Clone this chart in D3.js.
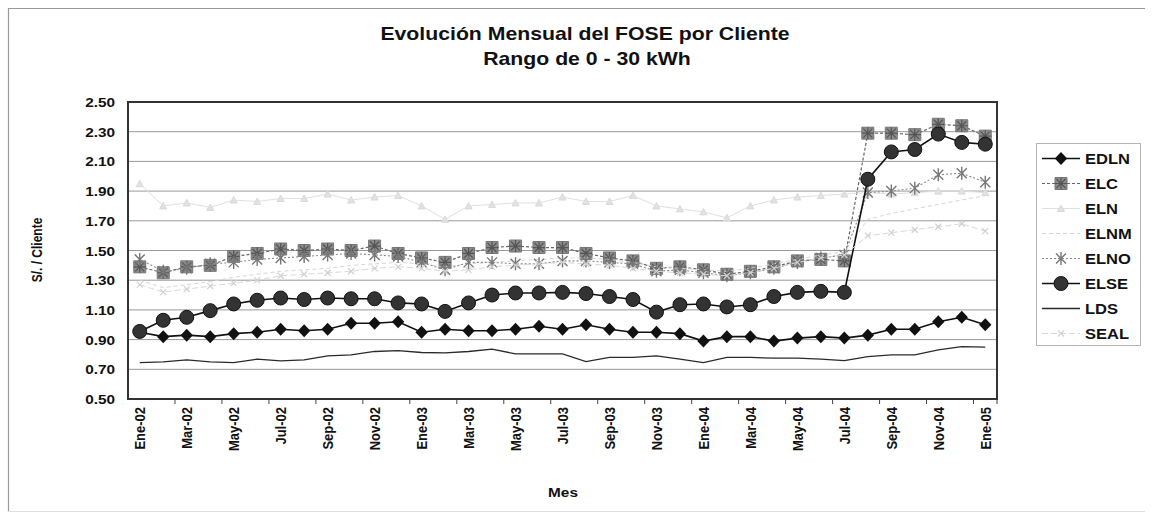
<!DOCTYPE html>
<html>
<head>
<meta charset="utf-8">
<script src="https://cdn.jsdelivr.net/npm/d3@7"></script>
<style>
  body { margin: 0; background: #fff; }
  svg { display: block; }
  text { font-family: "Liberation Sans", Arial, sans-serif; font-weight: bold; fill: #111; }
</style>
</head>
<body>
<svg id="chart" width="1152" height="518"></svg>
<script>
// Months Jan-2002 .. Jan-2005
const months = [
  "Ene-02","Feb-02","Mar-02","Abr-02","May-02","Jun-02","Jul-02","Ago-02","Sep-02","Oct-02","Nov-02","Dic-02",
  "Ene-03","Feb-03","Mar-03","Abr-03","May-03","Jun-03","Jul-03","Ago-03","Sep-03","Oct-03","Nov-03","Dic-03",
  "Ene-04","Feb-04","Mar-04","Abr-04","May-04","Jun-04","Jul-04","Ago-04","Sep-04","Oct-04","Nov-04","Dic-04",
  "Ene-05"
];
const xTickLabels = months.filter((m, i) => i % 2 === 0);
const yTicks = [0.5, 0.7, 0.9, 1.1, 1.3, 1.5, 1.7, 1.9, 2.1, 2.3, 2.5];

// FOSE per client (S/.), one array per distributor
const EDLN = [0.95,0.92,0.93,0.92,0.94,0.95,0.97,0.96,0.97,1.01,1.01,1.02,0.95,0.97,0.96,0.96,0.97,0.99,0.97,1.00,0.97,0.95,0.95,0.94,0.89,0.92,0.92,0.89,0.91,0.92,0.91,0.93,0.97,0.97,1.02,1.05,1.00];
const ELC  = [1.39,1.35,1.39,1.40,1.46,1.48,1.51,1.50,1.51,1.50,1.53,1.48,1.45,1.42,1.48,1.52,1.53,1.52,1.52,1.48,1.45,1.43,1.38,1.39,1.37,1.34,1.36,1.39,1.43,1.44,1.43,2.29,2.29,2.28,2.35,2.34,2.27];
const ELN  = [1.95,1.80,1.82,1.79,1.84,1.83,1.85,1.85,1.88,1.84,1.86,1.87,1.80,1.71,1.80,1.81,1.82,1.82,1.86,1.83,1.83,1.87,1.80,1.78,1.76,1.72,1.80,1.84,1.86,1.87,1.88,1.89,1.88,1.89,1.90,1.90,1.89];
const ELNM = [1.30,1.25,1.27,1.29,1.32,1.34,1.36,1.37,1.38,1.40,1.41,1.42,1.41,1.39,1.41,1.42,1.43,1.44,1.45,1.45,1.44,1.42,1.39,1.38,1.37,1.36,1.38,1.41,1.44,1.47,1.49,1.71,1.75,1.78,1.81,1.84,1.87];
const ELNO = [1.44,1.36,1.38,1.41,1.42,1.44,1.45,1.46,1.47,1.48,1.47,1.46,1.42,1.37,1.42,1.42,1.41,1.41,1.43,1.43,1.42,1.41,1.36,1.37,1.35,1.33,1.35,1.38,1.42,1.45,1.47,1.89,1.90,1.92,2.01,2.02,1.96];
const ELSE = [0.955,1.03,1.05,1.095,1.14,1.165,1.18,1.17,1.18,1.175,1.175,1.147,1.14,1.09,1.147,1.20,1.214,1.214,1.218,1.21,1.19,1.17,1.085,1.135,1.14,1.12,1.135,1.19,1.218,1.225,1.218,1.98,2.164,2.18,2.284,2.228,2.216];
const LDS  = [0.745,0.75,0.763,0.75,0.745,0.768,0.757,0.763,0.79,0.797,0.82,0.826,0.813,0.81,0.82,0.836,0.804,0.804,0.804,0.752,0.78,0.78,0.79,0.768,0.745,0.78,0.78,0.775,0.775,0.768,0.759,0.786,0.797,0.797,0.831,0.853,0.85];
const SEAL = [1.27,1.22,1.24,1.26,1.28,1.30,1.33,1.34,1.35,1.36,1.38,1.39,1.38,1.36,1.37,1.39,1.40,1.41,1.42,1.41,1.40,1.38,1.36,1.35,1.34,1.33,1.35,1.38,1.42,1.45,1.47,1.60,1.62,1.64,1.66,1.68,1.63];

const seriesNames = ["EDLN","ELC","ELN","ELNM","ELNO","ELSE","LDS","SEAL"];
const seriesValues = { EDLN, ELC, ELN, ELNM, ELNO, ELSE, LDS, SEAL };

// Marker shapes
const mk = {
  diamond: "M0,-6.5L6.2,0L0,6.5L-6.2,0Z",
  square: "M-6,-6H6V6H-6Z",
  star: "M-4.5,-4.5L4.5,4.5M-4.5,4.5L4.5,-4.5M0,-6L0,6M-6,0L6,0",
  asterisk: "M-5,-5L5,5M-5,5L5,-5M0,-6.5L0,6.5",
  triangle: "M0,-3.5L3.5,3L-3.5,3Z",
  cross: "M-3,-3L3,3M-3,3L3,-3"
};
const style = {
  EDLN: { stroke: "#111", width: 1.6, dash: null, marker: "diamond" },
  ELC:  { stroke: "#666", width: 1.2, dash: "3,2", marker: "square" },
  ELN:  { stroke: "#e0e0e0", width: 1, dash: null, marker: "triangle" },
  ELNM: { stroke: "#d6d6d6", width: 1, dash: "4,3", marker: null },
  ELNO: { stroke: "#8a8a8a", width: 1.1, dash: "2,2", marker: "asterisk" },
  ELSE: { stroke: "#111", width: 1.6, dash: null, marker: "circle" },
  LDS:  { stroke: "#2a2a2a", width: 1.3, dash: null, marker: null },
  SEAL: { stroke: "#d8d8d8", width: 1, dash: "6,3", marker: "cross" }
};

const svg = d3.select("#chart");
const SX = 1.18; // horizontal glyph stretch

const plot = { left: 128, right: 997, top: 102, bottom: 399 };
const x = d3.scaleBand().domain(months).range([plot.left, plot.right]).padding(0);
const cx = m => x(m) + x.bandwidth() / 2;
const y = d3.scaleLinear().domain([0.5, 2.5]).range([plot.bottom, plot.top]);

// outer frame
svg.append("path")
  .attr("d", "M8.5,511.5V8.5H1145")
  .attr("fill", "none").attr("stroke", "#9a9a9a").attr("stroke-width", 1.2);
svg.append("line").attr("x1", 8).attr("x2", 1145).attr("y1", 511.5).attr("y2", 511.5)
  .attr("stroke", "#dedede");

// gridlines
svg.append("g").selectAll("line")
  .data(yTicks.filter(v => v > 0.5 && v < 2.5))
  .join("line")
  .attr("x1", plot.left).attr("x2", plot.right)
  .attr("y1", d => y(d)).attr("y2", d => y(d))
  .attr("stroke", "#999").attr("stroke-width", 1);

// y axis labels
const yAxis = svg.append("g")
  .attr("transform", `translate(${plot.left},0)`)
  .call(d3.axisLeft(y).tickValues(yTicks).tickFormat(d3.format(".2f")).tickSize(0).tickPadding(0));
yAxis.select(".domain").remove();
yAxis.selectAll("text")
  .attr("x", null).attr("dy", "0.35em")
  .attr("text-anchor", "end")
  .style("font-size", "13px")
  .attr("transform", `translate(-13,0) scale(${SX},1)`);

// x axis labels
const xAxis = svg.append("g")
  .attr("transform", `translate(0,${plot.bottom})`)
  .call(d3.axisBottom(x).tickValues(xTickLabels).tickSize(0).tickPadding(0));
xAxis.select(".domain").remove();
xAxis.selectAll("text")
  .attr("y", null).attr("dy", "0.35em")
  .attr("text-anchor", "end")
  .style("font-size", "13px")
  .attr("transform", `translate(0,8) scale(${SX},1) rotate(-90)`);

// x tick marks every two months
svg.append("g").selectAll("line")
  .data(months.filter((m, i) => i % 2 === 0 && i > 0).concat([null]))
  .join("line")
  .attr("x1", d => d ? x(d) : plot.right).attr("x2", d => d ? x(d) : plot.right)
  .attr("y1", plot.bottom).attr("y2", plot.bottom + 5)
  .attr("stroke", "#444").attr("stroke-width", 1);

// series
const line = d3.line().x((d, i) => cx(months[i])).y(d => y(d));
const drawMarker = (g, name, px, py) => {
  const s = style[name];
  if (s.marker === "diamond") {
    g.append("path").attr("d", mk.diamond).attr("transform", `translate(${px},${py})`).attr("fill", "#111");
  } else if (s.marker === "circle") {
    g.append("circle").attr("cx", px).attr("cy", py).attr("r", 7).attr("fill", "#333").attr("stroke", "#111").attr("stroke-width", 1);
  } else if (s.marker === "square") {
    g.append("path").attr("d", mk.square).attr("transform", `translate(${px},${py})`).attr("fill", "#8c8c8c").attr("stroke", "#777");
    g.append("path").attr("d", mk.star).attr("transform", `translate(${px},${py})`).attr("fill", "none").attr("stroke", "#555").attr("stroke-width", 1.2);
  } else if (s.marker === "asterisk") {
    g.append("path").attr("d", mk.asterisk).attr("transform", `translate(${px},${py})`).attr("fill", "none").attr("stroke", "#777").attr("stroke-width", 1.4);
  } else if (s.marker === "triangle") {
    g.append("path").attr("d", mk.triangle).attr("transform", `translate(${px},${py})`).attr("fill", "#e2e2e2").attr("stroke", "#dadada");
  } else if (s.marker === "cross") {
    g.append("path").attr("d", mk.cross).attr("transform", `translate(${px},${py})`).attr("fill", "none").attr("stroke", "#d0d0d0").attr("stroke-width", 1.2);
  }
};

const seriesG = svg.append("g");
seriesNames.forEach(name => {
  const s = style[name];
  const vals = seriesValues[name];
  const g = seriesG.append("g");
  g.append("path").attr("d", line(vals))
    .attr("fill", "none").attr("stroke", s.stroke).attr("stroke-width", s.width)
    .attr("stroke-dasharray", s.dash);
  vals.forEach((v, i) => drawMarker(g, name, cx(months[i]), y(v)));
});

// plot frame
svg.append("rect")
  .attr("x", plot.left).attr("y", plot.top)
  .attr("width", plot.right - plot.left).attr("height", plot.bottom - plot.top)
  .attr("fill", "none").attr("stroke", "#333").attr("stroke-width", 2);

// titles
const title = svg.append("g");
title.append("text").text("Evolución Mensual del FOSE por Cliente")
  .attr("text-anchor", "middle").style("font-size", "18px")
  .attr("transform", `translate(585,39.5) scale(${SX},1)`);
title.append("text").text("Rango de 0 - 30 kWh")
  .attr("text-anchor", "middle").style("font-size", "18px")
  .attr("transform", `translate(587,64.5) scale(${SX},1)`);

svg.append("text").text("Mes")
  .attr("text-anchor", "middle").style("font-size", "13px")
  .attr("transform", `translate(563,497) scale(${SX},1)`);

svg.append("text").text("S/. / Cliente")
  .attr("text-anchor", "middle").style("font-size", "12px")
  .attr("transform", `translate(42,250) scale(${SX},1) rotate(-90)`);

// legend
const legend = svg.append("g");
legend.append("rect")
  .attr("x", 1036.5).attr("y", 143.5).attr("width", 104).attr("height", 202)
  .attr("fill", "#fff").attr("stroke", "#b5b5b5").attr("stroke-width", 1);
seriesNames.forEach((name, i) => {
  const s = style[name];
  const ly = 158.5 + i * 25;
  const g = legend.append("g");
  g.append("line").attr("x1", 1042).attr("x2", 1080).attr("y1", ly).attr("y2", ly)
    .attr("stroke", s.stroke).attr("stroke-width", s.width).attr("stroke-dasharray", s.dash);
  drawMarker(g, name, 1061, ly);
  g.append("text").text(name)
    .attr("dy", "0.36em").style("font-size", "14px")
    .attr("transform", `translate(1085,${ly}) scale(${SX},1)`);
});
</script>
</body>
</html>
